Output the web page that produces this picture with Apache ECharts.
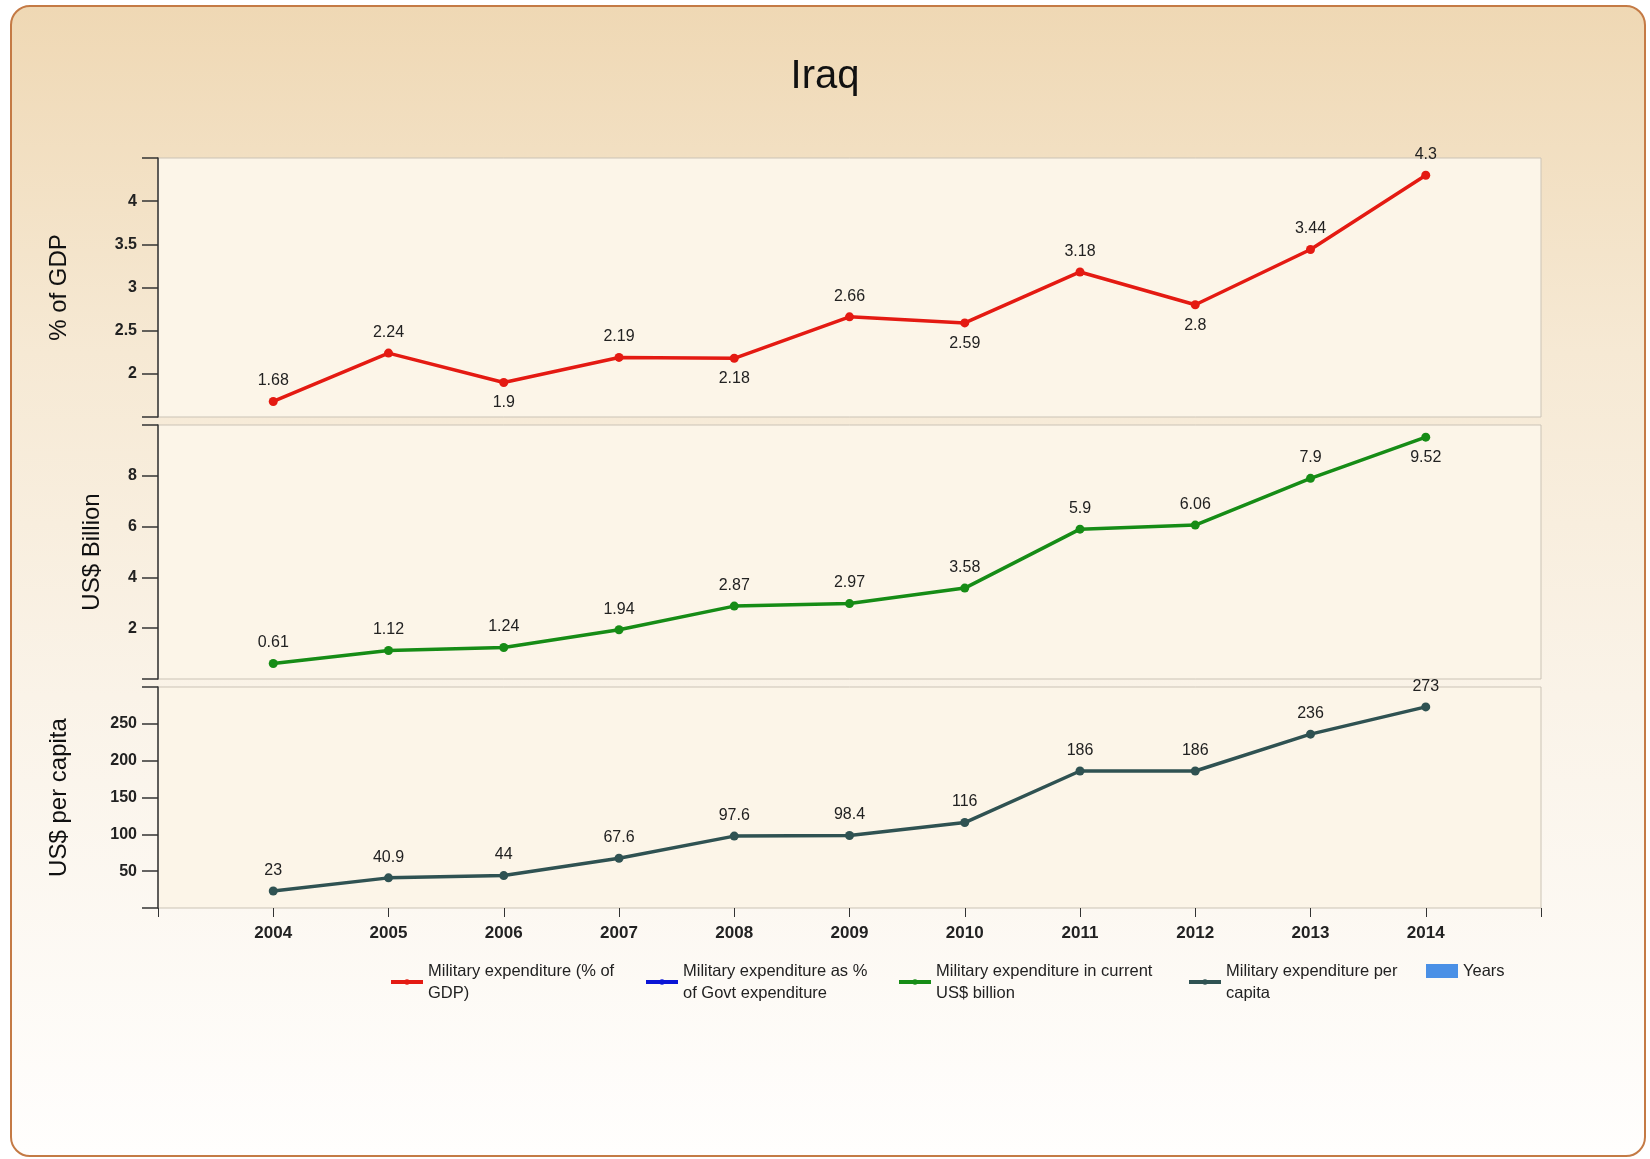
<!DOCTYPE html>
<html>
<head>
<meta charset="utf-8">
<title>Iraq</title>
<script src="https://cdn.jsdelivr.net/npm/echarts@6/dist/echarts.min.js"></script>
<style>
  html, body { margin: 0; padding: 0; background: #ffffff; }
  #frame {
    position: absolute; left: 10px; top: 5px; width: 1632px; height: 1148px;
    border: 2px solid #c47a45; border-radius: 20px;
    background: linear-gradient(to bottom, #efd8b4 0%, #f6e9d4 30%, #faf3e8 60%, #fffefd 100%);
  }
  #chart { position: absolute; left: 0; top: 0; width: 1650px; height: 1159px; }
</style>
</head>
<body>
<div id="frame"></div>
<div id="chart"></div>
<script>
// years on the x axis
const years = [2004, 2005, 2006, 2007, 2008, 2009, 2010, 2011, 2012, 2013, 2014];
// Military expenditure (% of GDP)
const pctGdp = [1.68, 2.24, 1.9, 2.19, 2.18, 2.66, 2.59, 3.18, 2.8, 3.44, 4.3];
// Military expenditure in current US$ billion
const usdBillion = [0.61, 1.12, 1.24, 1.94, 2.87, 2.97, 3.58, 5.9, 6.06, 7.9, 9.52];
// Military expenditure per capita
const perCapita = [23, 40.9, 44, 67.6, 97.6, 98.4, 116, 186, 186, 236, 273];

// axis ranges [min, max, interval]
const yearRange = [2003, 2015, 1];
const gdpRange = [1.5, 4.5, 0.5];
const billionRange = [0, 10, 2];
const capitaRange = [0, 300, 50];

const legendNames = {
  'Military expenditure (% of GDP)': 'Military expenditure (% of\nGDP)',
  'Military expenditure as % of Govt expenditure': 'Military expenditure as %\nof Govt expenditure',
  'Military expenditure in current US$ billion': 'Military expenditure in current\nUS$ billion',
  'Military expenditure per capita': 'Military expenditure per\ncapita',
  'Years': 'Years'
};

const FONT = '"Liberation Sans", Arial, sans-serif';

// label goes under a point when it is a dip, or when it sits right at the top of its panel
function points(values, range) {
  return values.map((v, i) => {
    const dip = i > 0 && v < values[i - 1] && (i === values.length - 1 || v < values[i + 1]);
    const nearTop = (range[1] - v) / (range[1] - range[0]) < 0.05;
    return {
      value: [years[i], v],
      label: { position: (dip || nearTop) ? 'bottom' : 'top' }
    };
  });
}

// blank out the end labels but keep their ticks
function innerOnly(range) {
  return v => (v === range[0] || v === range[1]) ? '' : String(v);
}

const chart = echarts.init(document.getElementById('chart'));

const grids = [
  { left: 158, right: 109, top: 158, height: 259 },
  { left: 158, right: 109, top: 425, height: 254 },
  { left: 158, right: 109, top: 687, height: 221 }
].map(g => Object.assign(g, {
  show: true, backgroundColor: '#fcf5e8', borderColor: '#cbc3b6', borderWidth: 1
}));

function xAxis(i, showLabels) {
  return {
    type: 'value', gridIndex: i,
    min: yearRange[0], max: yearRange[1], interval: yearRange[2],
    offset: showLabels ? 4 : 0,
    axisLine: { show: false },
    axisTick: { show: showLabels, length: 9, lineStyle: { color: '#333' } },
    axisLabel: {
      show: showLabels, margin: 13,
      fontSize: 17, fontWeight: 'bold', color: '#222', fontFamily: FONT,
      formatter: innerOnly(yearRange)
    },
    splitLine: { show: false }
  };
}

function yAxis(i, range, name, gap) {
  return {
    type: 'value', gridIndex: i,
    min: range[0], max: range[1], interval: range[2],
    name: name, nameLocation: 'middle', nameGap: gap,
    nameTextStyle: { fontSize: 24, color: '#111', fontFamily: FONT },
    axisLine: { show: true, lineStyle: { color: '#333', width: 1.5 } },
    axisTick: { show: true, length: 16, lineStyle: { color: '#333', width: 1.5 } },
    axisLabel: {
      margin: 21,
      fontSize: 16, fontWeight: 'bold', color: '#222', fontFamily: FONT,
      formatter: innerOnly(range)
    },
    splitLine: { show: false }
  };
}

function lineSeries(name, color, data, i) {
  return {
    name: name, type: 'line', xAxisIndex: i, yAxisIndex: i,
    data: data, color: color,
    symbol: 'circle', symbolSize: 9,
    lineStyle: { width: 3.5, color: color },
    itemStyle: { color: color },
    label: { show: true, fontSize: 16, color: '#222', fontFamily: FONT, distance: 8,
      formatter: p => String(p.value[1]) },
    animation: false
  };
}

const legendLeft = [384, 639, 892, 1182, 1421];
const legendOrder = Object.keys(legendNames);

chart.setOption({
  backgroundColor: 'transparent',
  textStyle: { fontFamily: FONT },
  title: {
    text: 'Iraq', left: 'center', top: 52,
    textStyle: { fontSize: 40, fontWeight: 'normal', color: '#111', fontFamily: FONT }
  },
  legend: legendOrder.map((n, k) => ({
    data: [n === 'Years' ? { name: n, icon: 'rect' } : n],
    left: legendLeft[k], top: 955,
    itemWidth: 32, itemHeight: n === 'Years' ? 14 : 7,
    lineStyle: { width: 4 },
    selectedMode: false,
    textStyle: { fontSize: 16.5, color: '#222', lineHeight: 22, fontFamily: FONT },
    formatter: name => legendNames[name]
  })),
  grid: grids,
  xAxis: [xAxis(0, false), xAxis(1, false), xAxis(2, true)],
  yAxis: [
    yAxis(0, gdpRange, '% of GDP', 87),
    yAxis(1, billionRange, 'US$ Billion', 54),
    yAxis(2, capitaRange, 'US$ per capita', 87)
  ],
  series: [
    lineSeries('Military expenditure (% of GDP)', '#e41a12', points(pctGdp, gdpRange), 0),
    lineSeries('Military expenditure as % of Govt expenditure', '#0a14d6', [], 0),
    lineSeries('Military expenditure in current US$ billion', '#168c16', points(usdBillion, billionRange), 1),
    lineSeries('Military expenditure per capita', '#2f5252', points(perCapita, capitaRange), 2),
    { name: 'Years', type: 'bar', xAxisIndex: 2, yAxisIndex: 2, data: [],
      color: '#4a90e6', itemStyle: { color: '#4a90e6' } }
  ]
});
</script>
</body>
</html>
